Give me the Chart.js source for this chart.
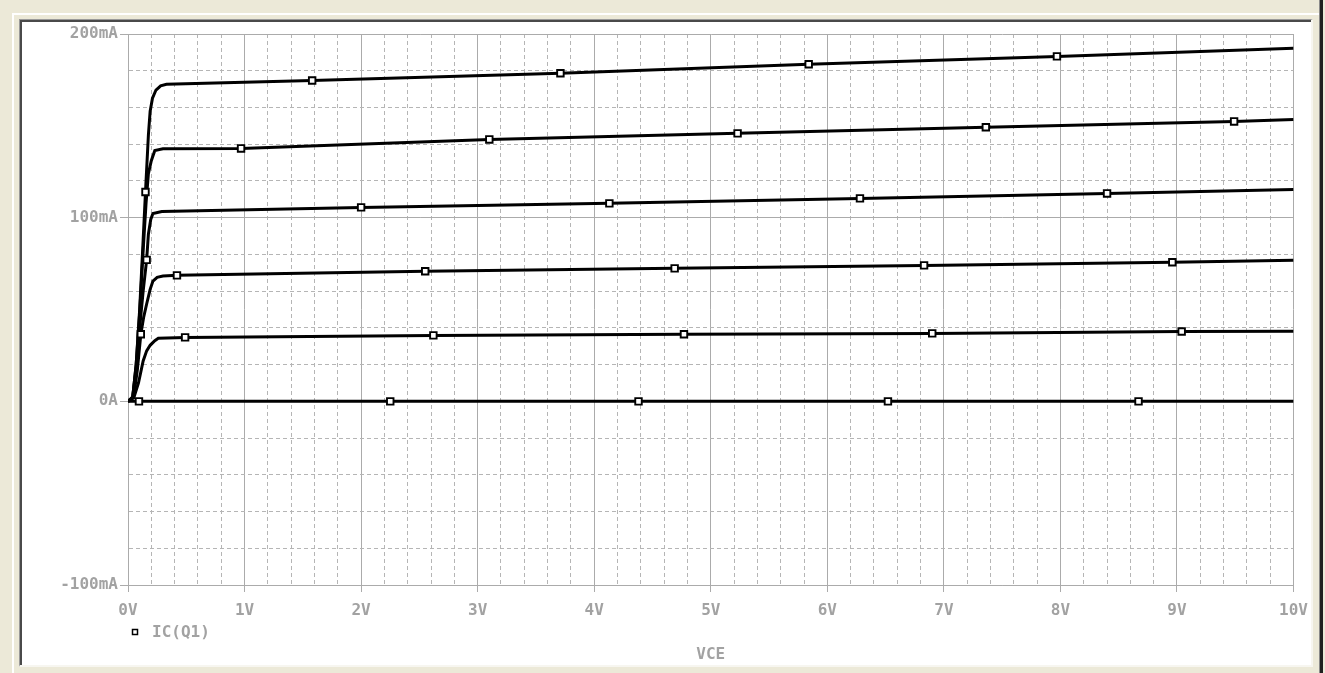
<!DOCTYPE html>
<html>
<head>
<meta charset="utf-8">
<title>IC(Q1) vs VCE</title>
<script src="https://cdn.jsdelivr.net/npm/chart.js@4/dist/chart.umd.min.js"></script>
<style>
  html, body { margin: 0; padding: 0; }
  body { width: 1325px; height: 673px; background: #ece9d8; position: relative; overflow: hidden; }
  .hilite { position: absolute; left: 12px; top: 13px; width: 1307px; height: 662px;
            border-left: 2px solid #ffffff; border-top: 2px solid #ffffff; box-sizing: border-box; }
  .edge { position: absolute; left: 1319px; top: 0; width: 4px; height: 673px;
          background: linear-gradient(to right, #8a8a8a 0, #8a8a8a 1px, #202020 1px, #202020 4px); }
  .panel { position: absolute; left: 19px; top: 19px; width: 1294px; height: 648px; box-sizing: border-box;
           border-left: 1px solid #9a9a9a; border-top: 1px solid #9a9a9a;
           border-right: 2px solid #f7f6f0; border-bottom: 2px solid #f7f6f0; background: #ffffff; }
  .panel-in { position: absolute; left: 0; top: 0; right: 0; bottom: 0;
              border-left: 2px solid #4a4a4a; border-top: 2px solid #4a4a4a; }
  #wrap { position: absolute; left: 22px; top: 22px; width: 1289px; height: 643px; overflow: hidden; }
</style>
</head>
<body>
<div class="hilite"></div>
<div class="edge"></div>
<div class="panel"><div class="panel-in"></div></div>
<div id="wrap"><canvas id="c" width="1295" height="643"></canvas></div>
<script>
// Collector current IC(Q1) in mA against collector-emitter voltage VCE in volts,
// one trace per base-current step.
const seriesLabel = 'IC(Q1)';
const xTitle = 'VCE';

const vce0 = [0, 10];
const ic0  = [0, 0];

const vce1 = [0, 0.05, 0.09, 0.13, 0.16, 0.19, 0.23, 0.26, 0.49, 2.62, 4.77, 6.90, 9.04, 10];
const ic1  = [0, 2, 10, 22, 27.5, 30.5, 33, 34.3, 34.8, 35.9, 36.5, 37.0, 38.0, 38.1];

const vce2 = [0, 0.05, 0.08, 0.11, 0.135, 0.16, 0.19, 0.214, 0.25, 0.3, 0.42, 2.55, 4.69, 6.83, 8.96, 10];
const ic2  = [0, 3, 17, 36.5, 46, 53, 61, 65.5, 67.5, 68.2, 68.6, 70.8, 72.4, 74.0, 75.7, 76.8];

const vce3 = [0, 0.04, 0.075, 0.1, 0.13, 0.16, 0.175, 0.195, 0.214, 0.29, 2.0, 4.13, 6.28, 8.40, 10];
const ic3  = [0, 2, 20, 40, 60, 77, 91, 99, 102.3, 103.4, 105.6, 107.8, 110.5, 113.2, 115.4];

const vce4 = [0, 0.04, 0.07, 0.1, 0.13, 0.155, 0.175, 0.2, 0.23, 0.3, 0.97, 3.10, 5.23, 7.36, 9.49, 10];
const ic4  = [0, 2, 20, 48, 82, 108, 124, 131, 136.6, 137.5, 137.7, 142.6, 145.9, 149.2, 152.4, 153.5];

const vce5 = [0, 0.04, 0.07, 0.1, 0.13, 0.15, 0.175, 0.19, 0.21, 0.24, 0.28, 0.33, 1.58, 3.71, 5.84, 7.97, 10];
const ic5  = [0, 2, 20, 50, 88, 114, 145, 158, 165, 169.5, 171.8, 172.6, 174.7, 178.6, 183.5, 187.8, 192.2];

// Trace markers (the small open squares placed along each trace)
const markVce0 = [0.094, 2.25, 4.38, 6.52, 8.67];
const markIc0  = [0, 0, 0, 0, 0];
const markVce1 = [0.49, 2.62, 4.77, 6.90, 9.04];
const markIc1  = [34.8, 35.9, 36.5, 37.0, 38.0];
const markVce2 = [0.11, 0.42, 2.55, 4.69, 6.83, 8.96];
const markIc2  = [36.5, 68.6, 70.8, 72.4, 74.0, 75.7];
const markVce3 = [0.16, 2.0, 4.13, 6.28, 8.40];
const markIc3  = [77, 105.6, 107.8, 110.5, 113.2];
const markVce4 = [0.97, 3.10, 5.23, 7.36, 9.49];
const markIc4  = [137.7, 142.6, 145.9, 149.2, 152.4];
const markVce5 = [0.15, 1.58, 3.71, 5.84, 7.97];
const markIc5  = [114, 174.7, 178.6, 183.5, 187.8];

const xMin = 0, xMax = 10, xStep = 0.2, xLabelEvery = 1;
const yMin = -100, yMax = 200, yStep = 20, yLabelEvery = 100;

const traces = [[vce0, ic0], [vce1, ic1], [vce2, ic2], [vce3, ic3], [vce4, ic4], [vce5, ic5]];
const marks = [[markVce0, markIc0], [markVce1, markIc1], [markVce2, markIc2],
               [markVce3, markIc3], [markVce4, markIc4], [markVce5, markIc5]];

const toPoints = (xs, ys) => xs.map((x, i) => ({ x: x, y: ys[i] }));

const INK = '#000000';
const TEXT = '#a2a2a2';
const GRID_MAJOR = '#ababab';
const GRID_MINOR = '#b5b5b5';
const FONT = { family: '"DejaVu Sans Mono", "Liberation Mono", monospace', size: 16, weight: 'bold' };

const datasets = [];
marks.forEach(([xs, ys]) => {
  datasets.push({
    label: seriesLabel,
    data: toPoints(xs, ys),
    showLine: false,
    pointStyle: 'rect',
    pointRadius: 4.6,
    pointBorderWidth: 1.9,
    pointBorderColor: INK,
    pointBackgroundColor: '#ffffff',
    order: 0
  });
});
traces.forEach(([xs, ys]) => {
  datasets.push({
    label: seriesLabel,
    data: toPoints(xs, ys),
    borderColor: INK,
    borderWidth: 3,
    pointRadius: 0,
    tension: 0,
    fill: false,
    order: 1
  });
});

const isMultiple = (v, m) => Math.abs(v / m - Math.round(v / m)) < 1e-6;

// Draws the single legend entry (open square + trace name) under the axis
const legendEntry = {
  id: 'legendEntry',
  afterDraw(chart) {
    const { ctx, chartArea } = chart;
    const x = chartArea.left + 7;
    const y = chartArea.bottom + 47;
    ctx.save();
    ctx.fillStyle = '#ffffff';
    ctx.strokeStyle = INK;
    ctx.lineWidth = 1.5;
    ctx.fillRect(x - 2.5, y - 2.5, 5, 5);
    ctx.strokeRect(x - 2.5, y - 2.5, 5, 5);
    ctx.fillStyle = TEXT;
    ctx.font = `${FONT.weight} ${FONT.size}px ${FONT.family}`;
    ctx.textBaseline = 'middle';
    ctx.textAlign = 'left';
    ctx.fillText(seriesLabel, x + 17, y + 1);
    ctx.restore();
  }
};

new Chart(document.getElementById('c'), {
  type: 'line',
  data: { datasets },
  plugins: [legendEntry],
  options: {
    responsive: false,
    animation: false,
    events: [],
    layout: { padding: { top: 12, right: 17, left: 0, bottom: 0 } },
    plugins: { legend: { display: false }, tooltip: { enabled: false } },
    scales: {
      x: {
        type: 'linear',
        min: xMin, max: xMax,
        afterFit: (s) => { s.height = 80; },
        ticks: {
          stepSize: xStep,
          autoSkip: false,
          maxRotation: 0,
          padding: 9,
          color: TEXT,
          font: FONT,
          callback: (v) => isMultiple(v, xLabelEvery) ? Math.round(v) + 'V' : ''
        },
        grid: {
          color: (c) => c.tick && isMultiple(c.tick.value, xLabelEvery) ? GRID_MAJOR : GRID_MINOR,
          lineWidth: 1,
          drawTicks: true,
          tickLength: 7,
          tickColor: (c) => c.tick && isMultiple(c.tick.value, xLabelEvery) ? GRID_MAJOR : 'rgba(0,0,0,0)'
        },
        border: {
          color: GRID_MAJOR,
          dash: (c) => c.tick && isMultiple(c.tick.value, xLabelEvery) ? [] : [4, 3]
        },
        title: { display: true, text: xTitle, color: TEXT, font: FONT, padding: { top: 4, bottom: 1 } }
      },
      y: {
        type: 'linear',
        min: yMin, max: yMax,
        afterFit: (s) => { s.width = 106; },
        ticks: {
          stepSize: yStep,
          autoSkip: false,
          padding: 2,
          color: TEXT,
          font: FONT,
          callback: (v) => {
            if (!isMultiple(v, yLabelEvery)) return '';
            const n = Math.round(v);
            return n === 0 ? '0A' : n + 'mA';
          }
        },
        grid: {
          color: (c) => c.tick && isMultiple(c.tick.value, yLabelEvery) ? GRID_MAJOR : GRID_MINOR,
          lineWidth: 1,
          drawTicks: true,
          tickLength: 8,
          tickColor: (c) => c.tick && isMultiple(c.tick.value, yLabelEvery) ? GRID_MAJOR : 'rgba(0,0,0,0)'
        },
        border: {
          color: GRID_MAJOR,
          dash: (c) => c.tick && isMultiple(c.tick.value, yLabelEvery) ? [] : [4, 3]
        }
      }
    }
  }
});
</script>
</body>
</html>
